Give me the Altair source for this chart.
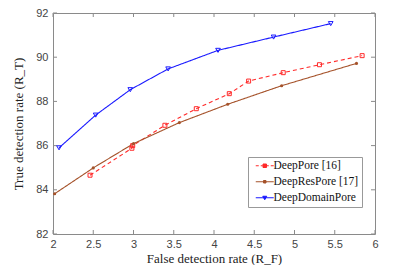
import altair as alt
import pandas as pd

names = ["DeepPore [16]", "DeepResPore [17]", "DeepDomainPore"]
colors = ["#ff2a2a", "#a5522a", "#1a1aff"]

deeppore_x = [2.46, 2.98, 2.99, 3.39, 3.78, 4.19, 4.43, 4.86, 5.31, 5.84]
deeppore_y = [84.66, 85.88, 86.0, 86.92, 87.67, 88.35, 88.92, 89.3, 89.66, 90.07]
deepres_x = [2.02, 2.5, 3.0, 3.57, 4.17, 4.84, 5.77]
deepres_y = [83.82, 84.99, 86.09, 87.04, 87.87, 88.71, 89.72]
domain_x = [2.075, 2.53, 2.96, 3.43, 4.05, 4.74, 5.45]
domain_y = [85.9, 87.38, 88.53, 89.47, 90.31, 90.91, 91.52]

xticks = [2, 2.5, 3, 3.5, 4, 4.5, 5, 5.5, 6]
yticks = [82, 84, 86, 88, 90, 92]

rows = []
for n, xs, ys in [(names[0], deeppore_x, deeppore_y),
                  (names[1], deepres_x, deepres_y),
                  (names[2], domain_x, domain_y)]:
    for a, b in zip(xs, ys):
        rows.append({"series": n, "x": a, "y": b})
df = pd.DataFrame(rows)

W, H = 322, 221
GRAY = "#8a8a8a"
SERIF = "Liberation Serif"
SANS = "Liberation Sans"

xscale = alt.Scale(domain=[2, 6], nice=False, zero=False)
yscale = alt.Scale(domain=[82, 92], nice=False, zero=False)
cscale = alt.Scale(domain=names, range=colors)
dscale = alt.Scale(domain=names, range=[[4, 3], [1, 0], [1, 0]])

xaxis = alt.Axis(values=xticks, grid=False, ticks=False, domain=False, format="~g",
                 labelFont=SANS, labelFontSize=11, labelColor="#444",
                 labelPadding=4, labelFlush=False,
                 title="False detection rate (R_F)", titleFont=SERIF,
                 titleFontSize=13, titleFontWeight="normal", titleColor="#222",
                 titleX=W / 2, titleY=24, titleAlign="center", titleBaseline="middle")
yaxis = alt.Axis(values=yticks, grid=False, ticks=False, domain=False, format="~g",
                 labelFont=SANS, labelFontSize=11, labelColor="#444",
                 labelPadding=5, labelFlush=False,
                 title="True detection rate (R_T)", titleFont=SERIF,
                 titleFontSize=13, titleFontWeight="normal", titleColor="#222",
                 titleX=-35, titleY=H / 2, titleAlign="center", titleBaseline="middle",
                 titleAngle=-90)

base = alt.Chart(df)

lines = base.mark_line(strokeWidth=1.1).encode(
    x=alt.X("x:Q", scale=xscale, axis=xaxis),
    y=alt.Y("y:Q", scale=yscale, axis=yaxis),
    color=alt.Color("series:N", scale=cscale, legend=None),
    strokeDash=alt.StrokeDash("series:N", scale=dscale, legend=None),
    order="x:Q",
)

def pts(name, shape, size, filled):
    return base.transform_filter(alt.datum.series == name).mark_point(
        shape=shape, size=size, filled=filled, strokeWidth=1, opacity=1
    ).encode(
        x="x:Q", y="y:Q",
        color=alt.Color("series:N", scale=cscale, legend=None),
    )

p1 = pts(names[0], "square", 16, False)
p2 = pts(names[1], "circle", 10, True)
p3 = pts(names[2], "triangle-down", 22, False)

legend_shapes = [
    "M-0.2,0H0.4M0.8,0H1.2M2.0,0H2.4M2.8,0H3.4M1.25,-0.35H1.95V0.35H1.25Z",
    "M-0.2,0H3.4M1.35,-0.25H1.85V0.25H1.35Z",
    "M-0.2,0H3.4M1.2,-0.3L2.0,-0.3L1.6,0.4Z",
]
leg_cfg = dict(title=None, orient="none", legendX=195, legendY=144,
               symbolSize=100, symbolStrokeWidth=1, strokeColor="#999",
               fillColor="white", padding=3, rowPadding=3,
               labelOffset=11, symbolOpacity=1,
               labelFont=SERIF, labelFontSize=11.5, labelColor="#111",
               labelFontWeight="normal")
leg = base.mark_point(strokeWidth=1, opacity=0).encode(
    x="x:Q", y="y:Q",
    stroke=alt.Stroke("series:N", scale=cscale, legend=alt.Legend(**leg_cfg)),
    fill=alt.Fill("series:N", scale=cscale, legend=alt.Legend(**leg_cfg)),
    shape=alt.Shape("series:N", scale=alt.Scale(domain=names, range=legend_shapes),
                    legend=alt.Legend(**leg_cfg)),
)

tdf_x = pd.DataFrame({"t": xticks})
tdf_y = pd.DataFrame({"t": yticks})
tick_b = alt.Chart(tdf_x).mark_rule(color=GRAY, strokeWidth=1).encode(
    x=alt.X("t:Q", scale=xscale), y=alt.value(H), y2=alt.value(H - 4))
tick_t = alt.Chart(tdf_x).mark_rule(color=GRAY, strokeWidth=1).encode(
    x=alt.X("t:Q", scale=xscale), y=alt.value(0), y2=alt.value(4))
tick_l = alt.Chart(tdf_y).mark_rule(color=GRAY, strokeWidth=1).encode(
    y=alt.Y("t:Q", scale=yscale), x=alt.value(0), x2=alt.value(4))
tick_r = alt.Chart(tdf_y).mark_rule(color=GRAY, strokeWidth=1).encode(
    y=alt.Y("t:Q", scale=yscale), x=alt.value(W), x2=alt.value(W - 4))

chart = alt.layer(leg, tick_b, tick_t, tick_l, tick_r, lines, p1, p2, p3).resolve_legend(
    color="independent", shape="independent", stroke="independent", fill="independent"
).properties(
    width=W, height=H,
    autosize=alt.AutoSizeParams(type="none"),
    padding={"left": 45, "top": 5, "right": 32, "bottom": 31},
).configure(
    background="white", font=SERIF, style={"guide-label": {"font": SERIF}}
).configure_view(stroke=GRAY, strokeWidth=1).configure_legend(
    labelFont=SERIF, labelFontSize=11.5, labelColor="#111", labelFontWeight="normal"
)

chart.save("out.html", embed_options={"renderer": "svg", "actions": False})
